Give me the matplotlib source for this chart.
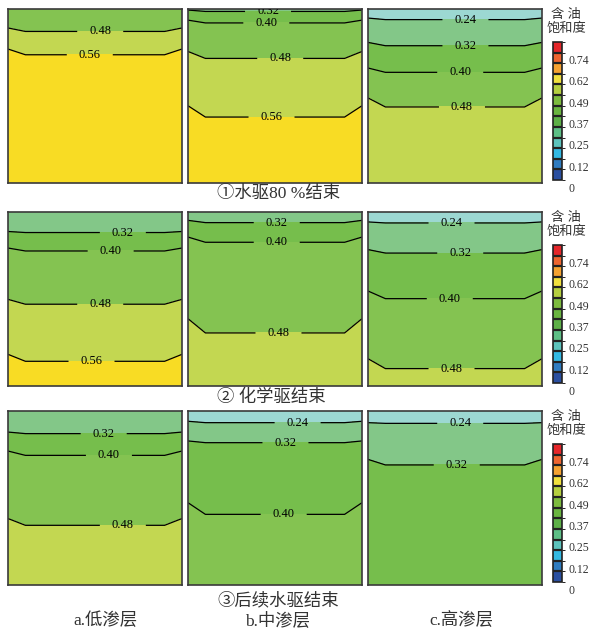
import numpy as np
import matplotlib.pyplot as plt
from matplotlib.colors import ListedColormap, BoundaryNorm
from matplotlib.cm import ScalarMappable

plt.rcParams['font.family'] = ['Liberation Serif', 'Noto Sans CJK SC']

# contour levels and the fill colour of each band
line_levels = [0.24, 0.32, 0.40, 0.48, 0.56]
fill_levels = [0.0, 0.24, 0.32, 0.40, 0.48, 0.56, 0.80]
fill_colors = ['#9cd8d2', '#83c788', '#76be4c', '#84c351', '#c3d751', '#f8dc24']

# oil saturation at the top, on each contour line and at the bottom of a section,
# depth_c = depth of that value in the middle, depth_e = depth at the side walls
# ① end of water flooding (80 %)
sat_1a = [0.44, 0.48, 0.56, 0.60]
depth_c_1a = [0, 0.129, 0.263, 1]
depth_e_1a = [0, 0.109, 0.230, 1]

sat_1b = [0.30, 0.32, 0.40, 0.48, 0.56, 0.60]
depth_c_1b = [0, 0.014, 0.080, 0.284, 0.621, 1]
depth_e_1b = [0, 0.006, 0.064, 0.244, 0.556, 1]

sat_1c = [0.22, 0.24, 0.32, 0.40, 0.48, 0.52]
depth_c_1c = [0, 0.061, 0.211, 0.364, 0.563, 1]
depth_e_1c = [0, 0.052, 0.192, 0.339, 0.511, 1]

# ② end of chemical flooding
sat_2a = [0.30, 0.32, 0.40, 0.48, 0.56, 0.60]
depth_c_2a = [0, 0.118, 0.224, 0.530, 0.858, 1]
depth_e_2a = [0, 0.112, 0.207, 0.502, 0.818, 1]

sat_2b = [0.30, 0.32, 0.40, 0.48, 0.52]
depth_c_2b = [0, 0.061, 0.174, 0.695, 1]
depth_e_2b = [0, 0.048, 0.144, 0.613, 1]

sat_2c = [0.22, 0.24, 0.32, 0.40, 0.48, 0.52]
depth_c_2c = [0, 0.063, 0.236, 0.498, 0.900, 1]
depth_e_2c = [0, 0.057, 0.216, 0.454, 0.843, 1]

# ③ end of subsequent water flooding
sat_3a = [0.30, 0.32, 0.40, 0.48, 0.52]
depth_c_3a = [0, 0.130, 0.255, 0.657, 1]
depth_e_3a = [0, 0.121, 0.230, 0.618, 1]

sat_3b = [0.22, 0.24, 0.32, 0.40, 0.44]
depth_c_3b = [0, 0.067, 0.182, 0.594, 1]
depth_e_3b = [0, 0.059, 0.172, 0.527, 1]

sat_3c = [0.22, 0.24, 0.32, 0.36]
depth_c_3c = [0, 0.071, 0.310, 1]
depth_e_3c = [0, 0.067, 0.278, 1]

row_titles = ['①水驱80 %结束', '② 化学驱结束', '③后续水驱结束']
layer_names = ['a.低渗层', 'b.中渗层', 'c.高渗层']

# colour scale shown beside each row
cbar_colors = ['#2a4fa0', '#2f7cc1', '#33b9e3', '#5cc3bd', '#5dbf86', '#5db047',
               '#6ab540', '#7dbb3e', '#b5cf3f', '#f1e03e', '#f5a231', '#ee6530', '#e5262a']
cbar_max = 0.80
cbar_ticks = [0, 0.12, 0.25, 0.37, 0.49, 0.62, 0.74]
cbar_ticklabels = ['0', '0.12', '0.25', '0.37', '0.49', '0.62', '0.74']

sections = [
    [(sat_1a, depth_c_1a, depth_e_1a, [0.53, 0.47]),
     (sat_1b, depth_c_1b, depth_e_1b, [0.46, 0.45, 0.53, 0.48]),
     (sat_1c, depth_c_1c, depth_e_1c, [0.56, 0.56, 0.53, 0.54])],
    [(sat_2a, depth_c_2a, depth_e_2a, [0.66, 0.59, 0.53, 0.48]),
     (sat_2b, depth_c_2b, depth_e_2b, [0.51, 0.51, 0.52]),
     (sat_2c, depth_c_2c, depth_e_2c, [0.48, 0.53, 0.47, 0.48])],
    [(sat_3a, depth_c_3a, depth_e_3a, [0.55, 0.58, 0.66]),
     (sat_3b, depth_c_3b, depth_e_3b, [0.63, 0.56, 0.55]),
     (sat_3c, depth_c_3c, depth_e_3c, [0.53, 0.51])],
]

W, H = 590, 629
col_x = [0, 0.1, 0.9, 1]


def px_rect(x0, y0, x1, y1):
    return [x0 / W, 1 - y1 / H, (x1 - x0) / W, (y1 - y0) / H]


def draw_section(ax, sat, depth_c, depth_e, label_x):
    depth = np.array([[e, c, c, e] for c, e in zip(depth_c, depth_e)])
    xx = np.tile(col_x, (len(sat), 1))
    zz = np.repeat(np.array(sat)[:, None], len(col_x), axis=1)
    ax.contourf(xx, depth, zz, levels=fill_levels, colors=fill_colors)
    cs = ax.contour(xx, depth, zz, levels=line_levels, colors='black', linewidths=0.9)
    spots = list(zip(label_x, depth_c[1:-1]))
    ax.clabel(cs, fmt='%.2f', manual=spots, inline=True, inline_spacing=12, fontsize=9)
    ax.set_xlim(0, 1)
    ax.set_ylim(1, 0)
    ax.set_xticks([])
    ax.set_yticks([])
    for s in ax.spines.values():
        s.set_color('#3a3a3a')
        s.set_linewidth(1.2)


fig = plt.figure(figsize=(W / 100, H / 100), dpi=100)

col_left = [8, 188, 368]
row_top = [9, 212, 411]
caption_y = [194, 398, 601]

cmap = ListedColormap(cbar_colors)
norm = BoundaryNorm(np.linspace(0, cbar_max, len(cbar_colors) + 1), len(cbar_colors))

for r in range(3):
    for c in range(3):
        x0, y0 = col_left[c], row_top[r]
        ax = fig.add_axes(px_rect(x0, y0, x0 + 174, y0 + 174))
        draw_section(ax, *sections[r][c])

    # colour bar for this row
    cax = fig.add_axes(px_rect(553, row_top[r] + 33, 562, row_top[r] + 171))
    cb = fig.colorbar(ScalarMappable(norm=norm, cmap=cmap), cax=cax, drawedges=True)
    cb.dividers.set_color('#222222')
    cb.dividers.set_linewidth(1.6)
    cb.outline.set_edgecolor('#222222')
    cb.outline.set_linewidth(1.2)
    cb.set_ticks([])
    for v, t in zip(cbar_ticks, cbar_ticklabels):
        cax.text(1.75, v / cbar_max - 0.063, t, transform=cax.transAxes,
                 ha='left', va='center', fontsize=8.5, color='#333333')
    fig.text(566 / W, 1 - (row_top[r] + 6) / H, '含 油', ha='center', va='center',
             fontsize=9.5, color='#333333')
    fig.text(566 / W, 1 - (row_top[r] + 20) / H, '饱和度', ha='center', va='center',
             fontsize=9.5, color='#333333')

    fig.text(217 / W, 1 - caption_y[r] / H, row_titles[r], ha='left', va='center',
             fontsize=12.5, color='#333333')

for x, name in zip([105, 278, 461], layer_names):
    fig.text(x / W, 1 - 621 / H, name, ha='center', va='center', fontsize=12.5, color='#333333')

fig.savefig('out.png', dpi=100)
